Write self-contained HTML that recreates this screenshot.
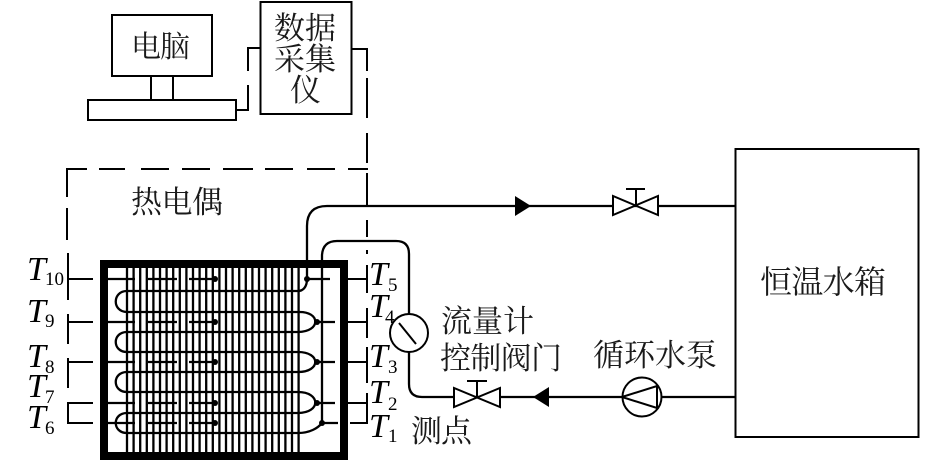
<!DOCTYPE html>
<html><head><meta charset="utf-8">
<style>
html,body{margin:0;padding:0;background:#fff}
svg{display:block}
.c{font-family:"Liberation Serif","Noto Serif CJK SC",serif;fill:#1a1a1a}
.t{font-family:"Liberation Serif",serif;font-style:italic;font-size:34px;fill:#000}
.s{font-family:"Liberation Serif",serif;font-size:19px;fill:#000}
</style></head><body>
<svg width="945" height="462" viewBox="0 0 945 462" xmlns="http://www.w3.org/2000/svg">
<g fill="#fff" stroke="#000" stroke-width="2">
<rect x="112" y="15" width="100" height="61"/>
<path d="M151 76V100M173 76V100" fill="none"/>
<rect x="88" y="100" width="148" height="20"/>
<rect x="260.500" y="2" width="91" height="112"/>
<rect x="735.500" y="149" width="183" height="288"/>
</g>
<!-- dashed signal wires -->
<g fill="none" stroke="#000" stroke-width="2">
<path d="M236 110H248V85M248 71V48H260"/>
<path d="M352 49H367V71M367 78V118M367 133V163M367 173V206M367 220V237M367 250V254"/>
<path d="M87 169H67V197M67 208V240M99 169H125M141 169H169M182 169H210M223 169H253M265 169H293M307 169H335M348 169H368"/>
<path d="M68 253V300M68 314V344M68 358V388M93 403H68V423H93"/>
<path d="M68 279H93M68 322H93M68 362H93"/>
<path d="M367 265V293M367 308V338M367 347V383M367 393V423H350"/>
<path d="M348 279H367M348 322H367M348 362H367M348 403H367"/>
</g>
<!-- coil -->
<g fill="none" stroke="#000" stroke-width="2.300">
<path d="M127 268V452M133.600 268V452M140.200 268V452M146.800 268V452M153.400 268V452M160 268V452M166.600 268V452M173.200 268V452M179.800 268V452M186.400 268V452M193 268V452M199.600 268V452M206.200 268V452M212.800 268V452M219.400 268V452M226 268V452M232.600 268V452M239.200 268V452M245.800 268V452M252.400 268V452M259 268V452M265.600 268V452M272.200 268V452M278.800 268V452M285.400 268V452M292 268V452M298.600 268V452"/>
<path d="M127 291H298C303 291 307 287 307 279V226Q307 206 327 206H735"/>
<path d="M127 291C112 291 112 312 127 312H298C321 311 321 332 298 332H127C112 332 112 352 127 352H298C321 352 321 372 298 372H127C112 372 112 392 127 392H298C321 392 321 413 298 413H127C112 413 112 433 127 433H298C310 433 318 428 322 423V255Q323 241 337 241H396Q409 241 409 254V384Q409 397 422 397H735"/>
<path d="M108 279H135M148 279H177M189 279H215M307 279H330"/>
<path d="M108 322H135M148 322H177M189 322H215M317 322H335"/>
<path d="M108 362H135M148 362H177M189 362H215M317 362H335"/>
<path d="M108 403H135M148 403H177M189 403H215M317 403H335"/>
<path d="M108 423H135M148 423H177M189 423H215M322 423H338"/>
</g>
<g fill="#000">
<circle cx="215" cy="279" r="3"/><circle cx="215" cy="322" r="3"/><circle cx="215" cy="362" r="3"/><circle cx="215" cy="403" r="3"/><circle cx="215" cy="423" r="3"/>
<circle cx="307" cy="279" r="3"/><circle cx="317" cy="322" r="3"/><circle cx="317" cy="362" r="3"/><circle cx="317" cy="403" r="3"/><circle cx="322" cy="423" r="3"/>
</g>
<rect x="104" y="264" width="240" height="192" fill="none" stroke="#000" stroke-width="8"/>
<!-- arrows -->
<path d="M515 196L531 206L515 216Z" fill="#000"/>
<path d="M549 387L533 397L549 407Z" fill="#000"/>
<!-- valves -->
<g fill="#fff" stroke="#000" stroke-width="2">
<path d="M613 196V215L658 196V215Z"/>
<path d="M636 205V189M626 189H645" fill="none"/>
<path d="M454 388V407L500 388V407Z"/>
<path d="M477 397V381M467 381H487" fill="none"/>
<circle cx="409" cy="333" r="19"/>
<path d="M399 323L416 344" fill="none"/>
<circle cx="642" cy="397" r="19.500"/>
<path d="M622 397L657 386V408Z" fill="none"/>
</g>
<!-- Chinese labels -->
<g class="c">
<text x="131" y="57" font-size="30" textLength="59">电脑</text>
<text x="274" y="39" font-size="31" textLength="62">数据</text>
<text x="274" y="70" font-size="31" textLength="62">采集</text>
<text x="290" y="101" font-size="31">仪</text>
<text x="131" y="213" font-size="31" textLength="92">热电偶</text>
<text x="760" y="293" font-size="32" textLength="126">恒温水箱</text>
<text x="441" y="332" font-size="31" textLength="93">流量计</text>
<text x="440" y="369" font-size="31" textLength="122">控制阀门</text>
<text x="593" y="366" font-size="31" textLength="124">循环水泵</text>
<text x="411" y="442" font-size="31" textLength="61">测点</text>
</g>
<!-- T labels -->
<text class="t" x="27" y="280">T</text><text class="s" x="45" y="285">10</text>
<text class="t" x="27" y="322">T</text><text class="s" x="45" y="327">9</text>
<text class="t" x="27" y="367">T</text><text class="s" x="45" y="373">8</text>
<text class="t" x="27" y="397">T</text><text class="s" x="45" y="403">7</text>
<text class="t" x="27" y="428">T</text><text class="s" x="45" y="434">6</text>
<text class="t" x="369" y="285">T</text><text class="s" x="388" y="291">5</text>
<text class="t" x="369" y="317">T</text><text class="s" x="385" y="323">4</text>
<text class="t" x="369" y="367">T</text><text class="s" x="388" y="373">3</text>
<text class="t" x="369" y="403">T</text><text class="s" x="388" y="410">2</text>
<text class="t" x="369" y="437">T</text><text class="s" x="388" y="442">1</text>
</svg>
</body></html>
